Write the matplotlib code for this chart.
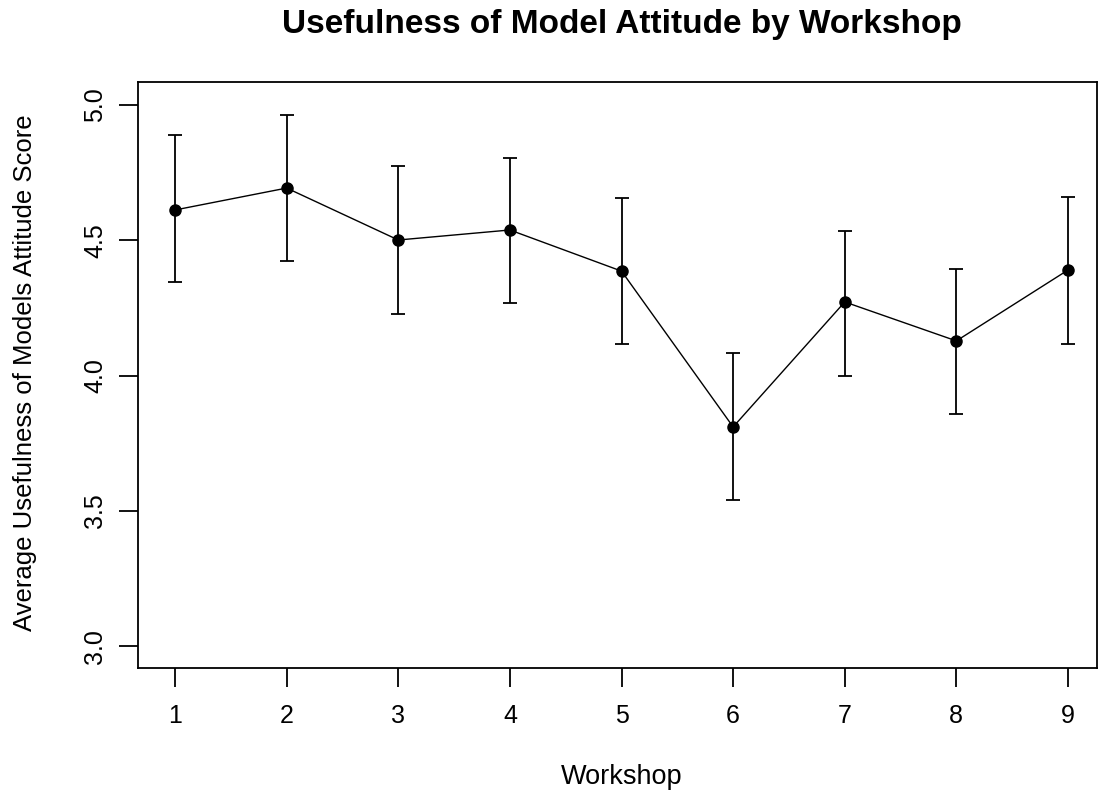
import matplotlib
matplotlib.use("Agg")
import matplotlib.pyplot as plt

# data
workshops = [1, 2, 3, 4, 5, 6, 7, 8, 9]
means = [4.612, 4.693, 4.501, 4.538, 4.386, 3.810, 4.272, 4.128, 4.390]
upper = [4.889, 4.963, 4.774, 4.804, 4.656, 4.083, 4.534, 4.394, 4.660]
lower = [4.346, 4.423, 4.227, 4.268, 4.116, 3.540, 3.998, 3.858, 4.116]
yticks = [3.0, 3.5, 4.0, 4.5, 5.0]

plt.rcParams['font.family'] = ['Liberation Sans', 'DejaVu Sans']

fig = plt.figure(figsize=(10.98, 7.96), dpi=100)
ax = fig.add_axes([138 / 1098, 1 - 668 / 796, (1097 - 138) / 1098, (668 - 82) / 796])

err = [[m - l for m, l in zip(means, lower)], [u - m for m, u in zip(means, upper)]]
ax.plot(workshops, means, color='black', lw=1)
ax.errorbar(workshops, means, yerr=err, fmt='o', color='black', ms=8,
            elinewidth=1.3, capsize=5, capthick=1.3)

ax.set_xlim(0.668, 9.26)
ax.set_ylim(2.919, 5.085)
ax.set_xticks(workshops)
ax.set_yticks(yticks)
ax.set_yticklabels([f"{v:.1f}" for v in yticks], rotation=90, va='center')
ax.tick_params(length=14, width=1.3, labelsize=18, pad=8)
ax.tick_params(axis='x', pad=12)
for s in ax.spines.values():
    s.set_linewidth(1.3)

ax.set_xlabel("Workshop", fontsize=19.5)
ax.set_ylabel("Average Usefulness of Models Attitude Score", fontsize=18.5)
ax.xaxis.set_label_coords(0.5 + (621 - 617) / 959, -0.186)
ax.yaxis.set_label_coords(-0.118, 0.5 - (373 - 375) / 586)
ax.xaxis.label.set_va('center')
ax.yaxis.label.set_va('center')
fig.text(621.5 / 1098, 1 - 24 / 796, "Usefulness of Model Attitude by Workshop", ha='center', va='center',
         fontsize=24, fontweight='bold')

fig.savefig("out.png", dpi=100)
